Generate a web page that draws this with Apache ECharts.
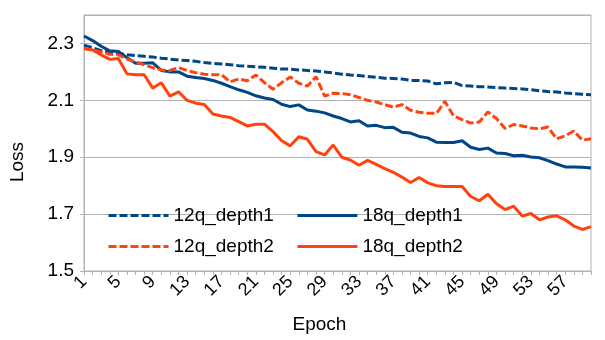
<!DOCTYPE html>
<html>
<head>
<meta charset="utf-8">
<script src="https://cdn.jsdelivr.net/npm/echarts@6/dist/echarts.min.js"></script>
<style>
  html, body { margin: 0; padding: 0; background: #fff; }
  #chart { width: 605px; height: 340px; }
</style>
</head>
<body>
<div id="chart"></div>
<script>
// epoch categories
const epochs = ['1','2','3','4','5','6','7','8','9','10','11','12','13','14','15','16','17','18','19','20',
  '21','22','23','24','25','26','27','28','29','30','31','32','33','34','35','36','37','38','39','40',
  '41','42','43','44','45','46','47','48','49','50','51','52','53','54','55','56','57','58','59','60'];

const q12Depth1 = [2.294, 2.285, 2.275, 2.270, 2.265, 2.260, 2.257, 2.255, 2.252, 2.248,
  2.245, 2.242, 2.240, 2.237, 2.233, 2.230, 2.228, 2.225, 2.222, 2.220,
  2.218, 2.216, 2.213, 2.210, 2.210, 2.207, 2.205, 2.203, 2.200, 2.196,
  2.192, 2.189, 2.187, 2.184, 2.181, 2.178, 2.177, 2.175, 2.170, 2.170,
  2.168, 2.158, 2.162, 2.163, 2.152, 2.150, 2.148, 2.147, 2.145, 2.143,
  2.142, 2.140, 2.137, 2.134, 2.131, 2.129, 2.126, 2.124, 2.121, 2.120];

const q18Depth1 = [2.326, 2.310, 2.290, 2.274, 2.272, 2.250, 2.230, 2.230, 2.232, 2.205,
  2.200, 2.200, 2.185, 2.180, 2.177, 2.170, 2.160, 2.148, 2.137, 2.128,
  2.116, 2.108, 2.103, 2.086, 2.078, 2.084, 2.066, 2.062, 2.056, 2.045,
  2.036, 2.024, 2.028, 2.010, 2.012, 2.004, 2.005, 1.988, 1.985, 1.973,
  1.968, 1.953, 1.952, 1.952, 1.958, 1.935, 1.927, 1.932, 1.915, 1.913,
  1.905, 1.907, 1.901, 1.898, 1.888, 1.876, 1.866, 1.866, 1.865, 1.862];

const q12Depth2 = [2.282, 2.277, 2.270, 2.262, 2.260, 2.245, 2.235, 2.225, 2.215, 2.207,
  2.205, 2.215, 2.205, 2.197, 2.192, 2.190, 2.190, 2.165, 2.175, 2.169,
  2.189, 2.162, 2.139, 2.162, 2.182, 2.160, 2.150, 2.183, 2.115, 2.125,
  2.124, 2.120, 2.110, 2.100, 2.094, 2.085, 2.076, 2.085, 2.065, 2.058,
  2.055, 2.054, 2.096, 2.045, 2.032, 2.020, 2.024, 2.059, 2.036, 2.001,
  2.015, 2.010, 2.003, 2.000, 2.006, 1.965, 1.975, 1.992, 1.960, 1.965];

const q18Depth2 = [2.282, 2.277, 2.260, 2.244, 2.247, 2.193, 2.190, 2.190, 2.143, 2.162,
  2.115, 2.130, 2.100, 2.090, 2.085, 2.052, 2.045, 2.040, 2.025, 2.010,
  2.016, 2.016, 1.990, 1.958, 1.940, 1.972, 1.963, 1.920, 1.908, 1.943,
  1.900, 1.890, 1.872, 1.889, 1.875, 1.860, 1.847, 1.830, 1.811, 1.829,
  1.810, 1.800, 1.797, 1.797, 1.797, 1.762, 1.747, 1.770, 1.736, 1.716,
  1.728, 1.693, 1.702, 1.680, 1.690, 1.694, 1.680, 1.658, 1.646, 1.656];

const BLUE = '#004586';
const ORANGE = '#ff420e';
const GRID = '#b3b3b3';
const FONT = 'Liberation Sans';

const chart = echarts.init(document.getElementById('chart'), null, {renderer: 'canvas'});

function lineSeries(name, data, color, dashed) {
  return {
    name: name,
    type: 'line',
    data: data,
    symbol: 'none',
    animation: false,
    lineStyle: {color: color, width: 3, type: dashed ? [8, 3] : 'solid'},
    itemStyle: {color: color}
  };
}

// legend is two rows of two, drawn as two legends
const legendBase = {
  left: 107,
  itemWidth: 60,
  itemHeight: 14,
  itemGap: 22,
  padding: 0,
  textStyle: {fontFamily: FONT, fontSize: 19, color: '#000'},
  itemStyle: {opacity: 0},
  lineStyle: {width: 3}
};

chart.setOption({
  backgroundColor: '#fff',
  textStyle: {fontFamily: FONT},
  grid: {
    left: 82, right: 14, top: 15, bottom: 69,
    show: true, borderColor: GRID, borderWidth: 1
  },
  legend: [
    Object.assign({}, legendBase, {top: 206, data: ['12q_depth1', '18q_depth1']}),
    Object.assign({}, legendBase, {top: 237, data: ['12q_depth2', '18q_depth2']})
  ],
  xAxis: {
    type: 'category',
    data: epochs,
    boundaryGap: false,
    name: 'Epoch',
    nameLocation: 'middle',
    nameGap: 44,
    nameTextStyle: {fontFamily: FONT, fontSize: 19, color: '#000', padding: [0, 36, 0, 0]},
    axisLine: {lineStyle: {color: GRID}},
    axisTick: {show: true, interval: 0, length: 4, lineStyle: {color: GRID}},
    axisLabel: {
      interval: 3, rotate: 45, margin: 8,
      fontFamily: FONT, fontSize: 18, color: '#000'
    },
    splitLine: {show: false}
  },
  yAxis: {
    type: 'value',
    min: 1.5,
    max: 2.4,
    interval: 0.2,
    name: 'Loss',
    nameLocation: 'middle',
    nameGap: 57,
    nameTextStyle: {fontFamily: FONT, fontSize: 19, color: '#000', padding: [0, 38, 0, 0]},
    axisLine: {show: true, lineStyle: {color: GRID}},
    axisTick: {show: true, length: 4, lineStyle: {color: GRID}},
    axisLabel: {
      showMaxLabel: false, margin: 10,
      fontFamily: FONT, fontSize: 19, color: '#000',
      formatter: v => v.toFixed(1)
    },
    splitLine: {show: true, lineStyle: {color: GRID, width: 1}}
  },
  series: [
    lineSeries('12q_depth1', q12Depth1, BLUE, true),
    lineSeries('18q_depth1', q18Depth1, BLUE, false),
    lineSeries('12q_depth2', q12Depth2, ORANGE, true),
    lineSeries('18q_depth2', q18Depth2, ORANGE, false)
  ]
});
</script>
</body>
</html>
